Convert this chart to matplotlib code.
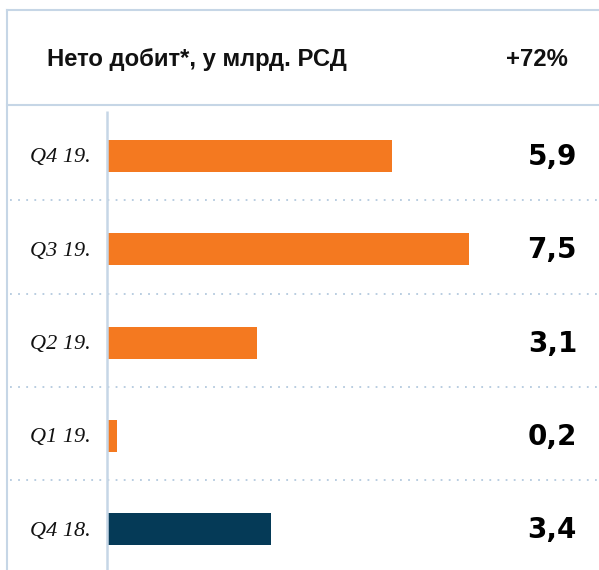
import matplotlib
matplotlib.use("Agg")
import matplotlib.pyplot as plt
from matplotlib.lines import Line2D

categories = ["Q4 19.", "Q3 19.", "Q2 19.", "Q1 19.", "Q4 18."]
values = [5.9, 7.5, 3.1, 0.2, 3.4]
value_labels = ["5,9", "7,5", "3,1", "0,2", "3,4"]
bar_colors = ["#f47920", "#f47920", "#f47920", "#f47920", "#053a57"]
title = "Нето добит*, у млрд. РСД"
change = "+72%"

W, H = 599, 570
fig = plt.figure(figsize=(W / 100, H / 100), dpi=100)
fig.patch.set_facecolor("white")

# axes spanning from x=7px to right edge, y=10px to bottom
ax = fig.add_axes([7 / W, 0, 1 - 7 / W, 1 - 10 / H])
px_per_unit = 48.3
row_px = 93.3
x0_px = 107 - 7
ax.set_xlim(-x0_px / px_per_unit, (W - 107) / px_per_unit)
ax.set_ylim((570 - 156) / row_px, (10 - 156) / row_px)
ax.axis("off")

line_col = "#c6d6e6"
dot_col = "#b3c9de"

ys = list(range(len(categories)))
ax.barh(ys, values, height=32 / row_px, color=bar_colors, left=0, zorder=3)

# frame lines
fig.add_artist(Line2D([7 / W, 1], [1 - 10 / H, 1 - 10 / H], color=line_col, lw=1.5))
fig.add_artist(Line2D([7 / W, 7 / W], [0, 1 - 10 / H], color=line_col, lw=1.5))
fig.add_artist(Line2D([7 / W, 1], [1 - 105 / H, 1 - 105 / H], color=line_col, lw=1.5))
# inner vertical axis line
ax.plot([0, 0], [(111 - 156) / row_px, (570 - 156) / row_px], color=line_col, lw=1.8,
        zorder=4, solid_capstyle="butt")

# dotted separators
for i in range(len(categories) - 1):
    y = i + 0.475
    ax.plot([(10 - 107) / px_per_unit, (597 - 107) / px_per_unit], [y, y],
            color=dot_col, lw=1.3, linestyle=(0, (1, 3.5)), zorder=2)

# header
ax.text((47 - 107) / px_per_unit, (59 - 156) / row_px, title, fontsize=17.2,
        fontweight="bold", family=["Liberation Sans", "DejaVu Sans"], ha="left", va="center",
        color="#111111")
ax.text((568 - 107) / px_per_unit, (59 - 156) / row_px, change, fontsize=17.2,
        fontweight="bold", family=["Liberation Sans", "DejaVu Sans"], ha="right", va="center",
        color="#111111")

# category labels and values
for y, cat, lab in zip(ys, categories, value_labels):
    ax.text((91 - 107) / px_per_unit, y + 0.02, cat, fontsize=16, style="italic",
            family=["Liberation Serif", "DejaVu Serif"], ha="right", va="center",
            color="#111111")
    ax.text((577 - 107) / px_per_unit, y + 0.01, lab, fontsize=20, fontweight="bold",
            family=["DejaVu Sans"], ha="right", va="center", color="#000000")

fig.savefig("out.png", dpi=100, facecolor="white")
